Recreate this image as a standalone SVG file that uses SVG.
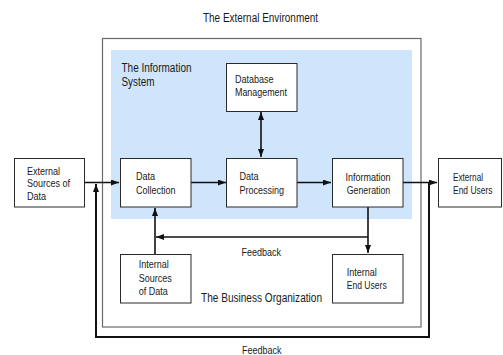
<svg xmlns="http://www.w3.org/2000/svg" width="503" height="355" viewBox="0 0 503 355">
  <defs>
    <marker id="ah" viewBox="0 0 8 6" refX="8" refY="3" markerWidth="8" markerHeight="6" markerUnits="userSpaceOnUse" orient="auto-start-reverse">
      <path d="M0,0 L8,3 L0,6 Z" fill="#111"/>
    </marker>
    <style>
      text { font-family: "Liberation Sans Narrow", "Liberation Sans", Arial, sans-serif; fill: #1a1a1a; }
      .lbl { font-size: 11px; }
      .big { font-size: 12.3px; }
      .box { fill: #fff; stroke: #2a2a2a; stroke-width: 1; }
      .wire { fill: none; stroke: #111; stroke-width: 1.6; }
      .loop { fill: none; stroke: #111; stroke-width: 2; }
    </style>
  </defs>
  <rect width="503" height="355" fill="#fff"/>

  <!-- environment title -->
  <text class="big" x="203" y="22" textLength="115" lengthAdjust="spacingAndGlyphs">The External Environment</text>

  <!-- business organization boundary -->
  <g id="business-organization">
    <rect x="102.5" y="38.5" width="318.5" height="288.5" fill="#fff" stroke="#6a6a6a" stroke-width="1.2"/>
    <text class="big" x="201" y="302" textLength="121" lengthAdjust="spacingAndGlyphs">The Business Organization</text>
  </g>

  <!-- information system region -->
  <g id="information-system">
    <rect x="111" y="50" width="301" height="169" fill="#cfe5fb"/>
    <text class="big" x="121.5" y="72" textLength="70" lengthAdjust="spacingAndGlyphs">The Information</text>
    <text class="big" x="121.5" y="85.5" textLength="33" lengthAdjust="spacingAndGlyphs">System</text>
  </g>

  <!-- connectors -->
  <g id="connectors">
    <path class="wire" d="M84,182.5 H119" marker-end="url(#ah)"/>
    <path class="wire" d="M191,182.5 H226" marker-end="url(#ah)"/>
    <path class="wire" d="M297,182.5 H331" marker-end="url(#ah)"/>
    <path class="wire" d="M403,182.5 H437" marker-end="url(#ah)"/>
    <path class="wire" d="M261,112 V157" marker-start="url(#ah)" marker-end="url(#ah)"/>
    <path class="wire" d="M368,207 V253" marker-end="url(#ah)"/>
    <path class="wire" d="M368,237 H156" marker-end="url(#ah)"/>
    <path class="wire" d="M155,254 V208" marker-end="url(#ah)"/>
    <path class="loop" d="M429,182.5 V337 H96 V184" marker-end="url(#ah)"/>
    <text class="lbl" x="241.5" y="256" textLength="39.6" lengthAdjust="spacingAndGlyphs">Feedback</text>
    <text class="lbl" x="242" y="353.5" textLength="39.6" lengthAdjust="spacingAndGlyphs">Feedback</text>
  </g>

  <g id="external-sources">
    <rect class="box" x="14.5" y="158.5" width="70" height="48.5"/>
    <text class="lbl" x="27" y="174.5" textLength="33.1" lengthAdjust="spacingAndGlyphs">External</text>
    <text class="lbl" x="27" y="187.3" textLength="43.1" lengthAdjust="spacingAndGlyphs">Sources of</text>
    <text class="lbl" x="27" y="200" textLength="19.1" lengthAdjust="spacingAndGlyphs">Data</text>
  </g>

  <g id="database-management">
    <rect class="box" x="226.5" y="63.5" width="70.5" height="48"/>
    <text class="lbl" x="235" y="83.3" textLength="38.6" lengthAdjust="spacingAndGlyphs">Database</text>
    <text class="lbl" x="235" y="96.3" textLength="52" lengthAdjust="spacingAndGlyphs">Management</text>
  </g>

  <g id="data-collection">
    <rect class="box" x="120.5" y="158.5" width="70.5" height="48.5"/>
    <text class="lbl" x="136" y="180" textLength="19.1" lengthAdjust="spacingAndGlyphs">Data</text>
    <text class="lbl" x="136" y="193.5" textLength="39.6" lengthAdjust="spacingAndGlyphs">Collection</text>
  </g>

  <g id="data-processing">
    <rect class="box" x="226.5" y="158.5" width="70.5" height="48.5"/>
    <text class="lbl" x="239.5" y="180" textLength="19.1" lengthAdjust="spacingAndGlyphs">Data</text>
    <text class="lbl" x="239.5" y="193.5" textLength="44.6" lengthAdjust="spacingAndGlyphs">Processing</text>
  </g>

  <g id="information-generation">
    <rect class="box" x="332.5" y="158.5" width="70.5" height="48.5"/>
    <text class="lbl" x="368" y="180.5" text-anchor="middle" textLength="45.1" lengthAdjust="spacingAndGlyphs">Information</text>
    <text class="lbl" x="368.5" y="194" text-anchor="middle" textLength="43.5" lengthAdjust="spacingAndGlyphs">Generation</text>
  </g>

  <g id="external-end-users">
    <rect class="box" x="438.5" y="158.5" width="63" height="48.5"/>
    <text class="lbl" x="453" y="180.5" textLength="30" lengthAdjust="spacingAndGlyphs">External</text>
    <text class="lbl" x="453" y="194" textLength="39.5" lengthAdjust="spacingAndGlyphs">End Users</text>
  </g>

  <g id="internal-sources">
    <rect class="box" x="120.5" y="254.5" width="70.5" height="48.5"/>
    <text class="lbl" x="138.7" y="267.5" textLength="30.1" lengthAdjust="spacingAndGlyphs">Internal</text>
    <text class="lbl" x="138.7" y="281.5" textLength="33.1" lengthAdjust="spacingAndGlyphs">Sources</text>
    <text class="lbl" x="138.7" y="295" textLength="29.1" lengthAdjust="spacingAndGlyphs">of Data</text>
  </g>

  <g id="internal-end-users">
    <rect class="box" x="332.5" y="254.5" width="70.5" height="48.5"/>
    <text class="lbl" x="346.7" y="275.7" textLength="30.1" lengthAdjust="spacingAndGlyphs">Internal</text>
    <text class="lbl" x="346.7" y="289.3" textLength="40" lengthAdjust="spacingAndGlyphs">End Users</text>
  </g>
</svg>
